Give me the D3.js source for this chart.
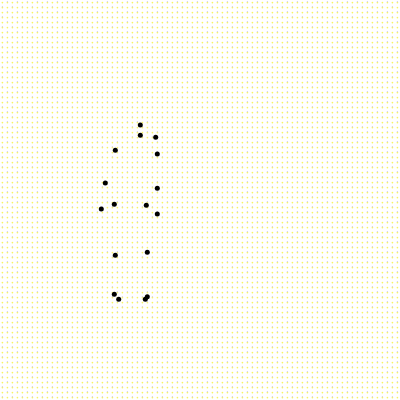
<!DOCTYPE html>
<html><head><meta charset="utf-8">
<script src="https://cdn.jsdelivr.net/npm/d3@7"></script>
<style>html,body{margin:0;padding:0;background:#fff;}svg{display:block;}</style>
</head><body>
<svg id="chart" width="400" height="400"></svg>
<script>
const xValues = [140.3,140.3,155.7,115.3,157.3,105.3,157.3,101.3,114.3,146.3,157.3,115.3,147.3,114.3,118.7,145.3,147.3];
const yValues = [125,135.3,137.3,150.3,154,183,188.3,209,204.3,205.3,214,255.3,252.3,294.3,299.3,299.3,296.7];

const W = 400, H = 400;
const svg = d3.select("#chart");
const defs = svg.append("defs");
const pat = defs.append("pattern").attr("id","bg").attr("patternUnits","userSpaceOnUse")
  .attr("width",10).attr("height",10);
[[2.4,2.6],[7.4,2.6],[2.4,7.6],[7.4,7.6]].forEach(([cx,cy],i)=>{
  pat.append("circle").attr("cx",cx).attr("cy",cy).attr("r",0.85).attr("fill","#f8f462");
});
[[7.4,1.6],[2.4,6.6]].forEach(([cx,cy])=>{
  pat.append("circle").attr("cx",cx).attr("cy",cy).attr("r",0.6).attr("fill","#bdb8f0").attr("opacity",0.8);
});
svg.append("rect").attr("width",W).attr("height",H).attr("fill","#fff");
svg.append("rect").attr("width",W).attr("height",H).attr("fill","url(#bg)");

const x = d3.scaleLinear().domain([0,400]).range([0,W]);
const y = d3.scaleLinear().domain([0,400]).range([0,H]);
const data = xValues.map((v,i)=>({x:v,y:yValues[i]}));
svg.append("g").selectAll("circle").data(data).join("circle")
  .attr("cx",d=>x(d.x)).attr("cy",d=>y(d.y)).attr("r",2.5).attr("fill","#000");
</script>
</body></html>
